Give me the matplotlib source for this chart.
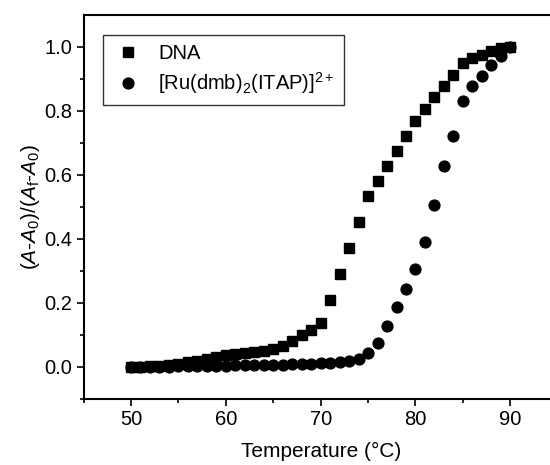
import matplotlib
matplotlib.use("Agg")
import matplotlib.pyplot as plt

plt.rcParams['font.family'] = ['Liberation Sans', 'DejaVu Sans']
plt.rcParams['mathtext.fontset'] = 'custom'
plt.rcParams['mathtext.rm'] = 'Liberation Sans'
plt.rcParams['mathtext.it'] = 'Liberation Sans:italic'

# temperatures (deg C), one reading per degree
temp = list(range(50, 91))

# normalised absorbance change
dna = [0.000, 0.000, 0.002, 0.004, 0.006, 0.010, 0.015, 0.020, 0.026, 0.032,
       0.037, 0.040, 0.043, 0.047, 0.051, 0.055, 0.065, 0.081, 0.099, 0.116,
       0.138, 0.210, 0.291, 0.371, 0.452, 0.534, 0.581, 0.627, 0.674, 0.723,
       0.770, 0.806, 0.842, 0.877, 0.913, 0.951, 0.966, 0.976, 0.986, 0.995,
       1.000]
ru = [0.000, 0.000, 0.000, 0.001, 0.001, 0.002, 0.002, 0.003, 0.003, 0.004,
      0.004, 0.005, 0.005, 0.006, 0.006, 0.007, 0.007, 0.008, 0.009, 0.010,
      0.011, 0.013, 0.015, 0.019, 0.025, 0.043, 0.076, 0.127, 0.186, 0.245,
      0.306, 0.389, 0.505, 0.627, 0.721, 0.830, 0.879, 0.910, 0.943, 0.971,
      1.000]

fig = plt.figure(figsize=(5.5, 4.65), dpi=100)
# right edge of the frame runs off the picture, as in the original
ax = fig.add_axes([0.152, 0.142, 0.862, 0.826])

ax.plot(temp, dna, 's', color='black', markersize=7.2, label='DNA')
ax.plot(temp, ru, 'o', color='black', markersize=7.8,
        label='[Ru(dmb)$_2$(ITAP)]$^{2+}$')

ax.set_xlim(45, 95)
ax.set_ylim(-0.1, 1.1)
ax.set_xticks([50, 60, 70, 80, 90])
ax.set_xticks([45, 55, 65, 75, 85, 95], minor=True)
ax.set_yticks([0.0, 0.2, 0.4, 0.6, 0.8, 1.0])
ax.set_yticks([-0.1, 0.1, 0.3, 0.5, 0.7, 0.9], minor=True)
ax.set_yticklabels(['0.0', '0.2', '0.4', '0.6', '0.8', '1.0'])

ax.tick_params(which='both', direction='out', width=1.2, labelsize=14.5, pad=3)
ax.tick_params(which='major', length=5)
ax.tick_params(which='minor', length=3)
for s in ax.spines.values():
    s.set_linewidth(1.5)

ax.set_xlabel('Temperature (°C)', fontsize=15, labelpad=9)
ax.set_ylabel('$(A$-$A_0)/(A_\\mathrm{f}$-$A_0)$', fontsize=15, labelpad=2)

leg = ax.legend(loc='upper left', bbox_to_anchor=(0.041, 0.948), borderaxespad=0,
                fontsize=14.5, frameon=True, fancybox=False, edgecolor='#333333',
                framealpha=1, handletextpad=0.7, handlelength=1.6,
                borderpad=0.45, labelspacing=0.35)
leg.get_frame().set_linewidth(1.0)

fig.savefig('out.png', dpi=100)
